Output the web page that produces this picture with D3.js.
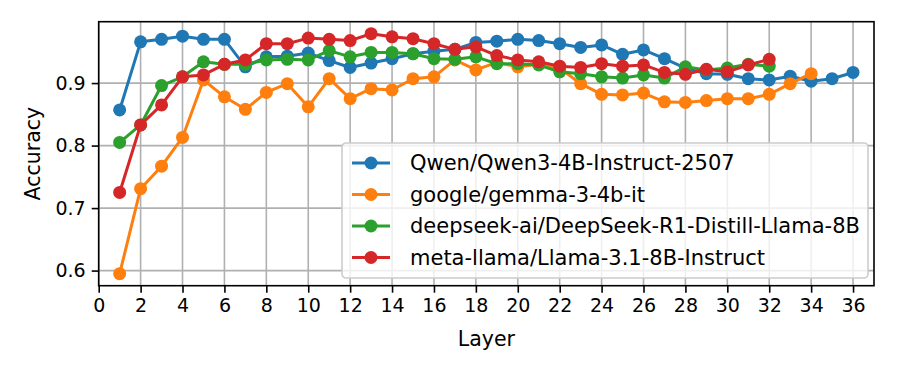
<!DOCTYPE html>
<html>
<head>
<meta charset="utf-8">
<script src="https://cdn.jsdelivr.net/npm/d3@7"></script>
<style>
  body { margin: 0; background: #fff; }
  text { font-family: "DejaVu Sans", sans-serif; fill: #000; }
</style>
</head>
<body>
<script>
const seriesNames = [
    "Qwen/Qwen3-4B-Instruct-2507",
    "google/gemma-3-4b-it",
    "deepseek-ai/DeepSeek-R1-Distill-Llama-8B",
    "meta-llama/Llama-3.1-8B-Instruct"
];
const colors = ["#1f77b4", "#ff7f0e", "#2ca02c", "#d62728"];

// accuracy per layer, starting at layer 1
const qwen = [0.857, 0.966, 0.970, 0.975, 0.970, 0.970, 0.926, 0.942, 0.943, 0.948,
    0.936, 0.925, 0.932, 0.939, 0.947, 0.951, 0.954, 0.965, 0.967, 0.970,
    0.968, 0.963, 0.957, 0.961, 0.946, 0.953, 0.939, 0.924, 0.915, 0.914,
    0.907, 0.905, 0.911, 0.903, 0.907, 0.917];
const gemma = [0.595, 0.731, 0.767, 0.813, 0.905, 0.878, 0.858, 0.885, 0.899, 0.862,
    0.907, 0.875, 0.891, 0.889, 0.907, 0.910, 0.937, 0.921, 0.933, 0.926,
    0.930, 0.924, 0.899, 0.882, 0.881, 0.884, 0.870, 0.869, 0.872, 0.875,
    0.875, 0.882, 0.899, 0.915];
const deepseek = [0.805, 0.833, 0.896, 0.910, 0.934, 0.930, 0.930, 0.937, 0.938, 0.937,
    0.952, 0.942, 0.949, 0.949, 0.947, 0.939, 0.938, 0.942, 0.931, 0.931,
    0.929, 0.918, 0.915, 0.910, 0.908, 0.913, 0.908, 0.926, 0.921, 0.924,
    0.930, 0.927];
const llama = [0.725, 0.833, 0.865, 0.910, 0.913, 0.930, 0.937, 0.963, 0.963, 0.972,
    0.970, 0.968, 0.979, 0.974, 0.971, 0.963, 0.954, 0.958, 0.944, 0.937,
    0.934, 0.927, 0.925, 0.931, 0.927, 0.929, 0.917, 0.914, 0.922, 0.918,
    0.929, 0.938];

const xTicks = d3.range(0, 37, 2);
const yTicks = [0.6, 0.7, 0.8, 0.9];

const width = 897, height = 374,
    margin = { top: 21.7, right: 23, bottom: 88.3, left: 98.7 },
    fs = 19, labelFs = 20.5, legendFs = 21;

const allSeries = [qwen, gemma, deepseek, llama];
const allVals = allSeries.flat();
const yMin = d3.min(allVals), yMax = d3.max(allVals), pad = (yMax - yMin) * 0.05;

const x = d3.scaleLinear().domain([0, 37]).range([margin.left, width - margin.right]);
const y = d3.scaleLinear().domain([yMin - pad, yMax + pad]).range([height - margin.bottom, margin.top]);

const svg = d3.select("body").append("svg")
    .attr("width", width)
    .attr("height", height);

// grid
svg.append("g").selectAll("line")
    .data(xTicks)
    .join("line")
    .attr("x1", d => x(d)).attr("x2", d => x(d))
    .attr("y1", y.range()[0]).attr("y2", y.range()[1])
    .attr("stroke", "#b0b0b0").attr("stroke-width", 1.6);
svg.append("g").selectAll("line")
    .data(yTicks)
    .join("line")
    .attr("y1", d => y(d)).attr("y2", d => y(d))
    .attr("x1", x.range()[0]).attr("x2", x.range()[1])
    .attr("stroke", "#b0b0b0").attr("stroke-width", 1.6);

// series
const line = d3.line().x((d, i) => x(i + 1)).y(d => y(d));
allSeries.forEach((s, k) => {
    const g = svg.append("g");
    g.append("path")
        .datum(s)
        .attr("d", line)
        .attr("fill", "none")
        .attr("stroke", colors[k])
        .attr("stroke-width", 3)
        .attr("stroke-linejoin", "round");
    g.selectAll("circle")
        .data(s)
        .join("circle")
        .attr("cx", (d, i) => x(i + 1))
        .attr("cy", d => y(d))
        .attr("r", 6.5)
        .attr("fill", colors[k]);
});

// axes
const xAxis = svg.append("g")
    .attr("transform", `translate(0,${height - margin.bottom})`)
    .call(d3.axisBottom(x).tickValues(xTicks).tickSize(7).tickPadding(6).tickFormat(d3.format("d")));
const yAxis = svg.append("g")
    .attr("transform", `translate(${margin.left},0)`)
    .call(d3.axisLeft(y).tickValues(yTicks).tickSize(7).tickPadding(6).tickFormat(d3.format(".1f")));
[xAxis, yAxis].forEach(a => {
    a.select(".domain").remove();
    a.selectAll(".tick line").attr("stroke", "#000").attr("stroke-width", 1.6);
    a.selectAll(".tick text").attr("font-size", fs).attr("font-family", "DejaVu Sans");
});

// frame
svg.append("rect")
    .attr("x", x.range()[0]).attr("y", y.range()[1])
    .attr("width", x.range()[1] - x.range()[0])
    .attr("height", y.range()[0] - y.range()[1])
    .attr("fill", "none").attr("stroke", "#000").attr("stroke-width", 1.6);

// axis labels
svg.append("text")
    .attr("x", (x.range()[0] + x.range()[1]) / 2)
    .attr("y", height - margin.bottom + 60)
    .attr("text-anchor", "middle")
    .attr("font-size", labelFs)
    .text("Layer");
svg.append("text")
    .attr("transform", `translate(40,${(y.range()[0] + y.range()[1]) / 2}) rotate(-90)`)
    .attr("text-anchor", "middle")
    .attr("font-size", labelFs)
    .text("Accuracy");

// legend
const lg = svg.append("g").attr("transform", "translate(342,143)");
lg.append("rect")
    .attr("width", 526).attr("height", 135)
    .attr("rx", 4)
    .attr("fill", "#fff").attr("fill-opacity", 0.8)
    .attr("stroke", "#cccccc").attr("stroke-width", 1.6);
seriesNames.forEach((n, k) => {
    const row = lg.append("g").attr("transform", `translate(0,${20 + k * 31.5})`);
    row.append("line")
        .attr("x1", 10).attr("x2", 48)
        .attr("stroke", colors[k]).attr("stroke-width", 3);
    row.append("circle").attr("cx", 29).attr("r", 6.5).attr("fill", colors[k]);
    row.append("text")
        .attr("x", 68).attr("dy", "0.35em")
        .attr("font-size", legendFs)
        .text(n);
});
</script>
</body>
</html>
